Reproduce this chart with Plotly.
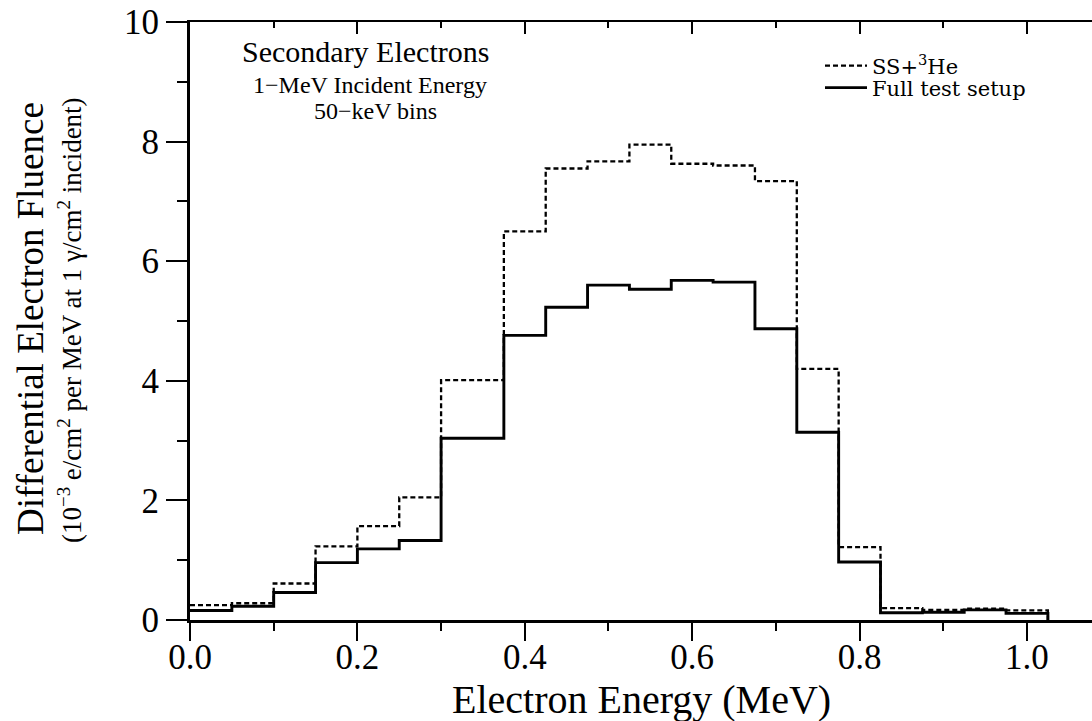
import plotly.graph_objects as go

# Bin edges (MeV) and bin values (10^-3 e/cm^2 per MeV)
bin_edges = [0.0, 0.05, 0.10, 0.15, 0.20, 0.25, 0.30, 0.375, 0.425, 0.475, 0.525,
             0.575, 0.625, 0.675, 0.725, 0.775, 0.825, 0.875, 0.925, 0.975, 1.025]
ss_he3 = [0.25, 0.28, 0.61, 1.23, 1.57, 2.05, 4.01, 6.50, 7.55, 7.67, 7.95,
          7.63, 7.60, 7.34, 4.20, 1.22, 0.20, 0.17, 0.19, 0.16]
full_setup = [0.16, 0.23, 0.46, 0.96, 1.19, 1.33, 3.04, 4.76, 5.23, 5.60, 5.53,
              5.68, 5.65, 4.87, 3.14, 0.97, 0.12, 0.13, 0.17, 0.11]

x_ticks = [0.0, 0.2, 0.4, 0.6, 0.8, 1.0]
x_tick_labels = ["0.0", "0.2", "0.4", "0.6", "0.8", "1.0"]
x_minor = [0.1, 0.3, 0.5, 0.7, 0.9]
y_ticks = [0, 2, 4, 6, 8, 10]
y_tick_labels = ["0", "2", "4", "6", "8", "10"]
y_minor = [1, 3, 5, 7, 9]

SERIF = "Liberation Serif, Times New Roman, serif"
WIDE = "DejaVu Serif, serif"

fig = go.Figure()
fig.add_trace(go.Scatter(
    x=bin_edges, y=ss_he3 + [0.0], mode="lines", line_shape="hv",
    line=dict(color="black", width=2.3, dash="5px,3px"),
    name="SS+<sup>3</sup>He", legend="legend",
))
fig.add_trace(go.Scatter(
    x=bin_edges, y=full_setup + [0.0], mode="lines", line_shape="hv",
    line=dict(color="black", width=2.9),
    name="Full test setup", legend="legend2",
))
# dummy trace for the top axis
fig.add_trace(go.Scatter(x=[None], y=[None], xaxis="x2", showlegend=False,
                         hoverinfo="skip"))

xr = [0, 1.0777]
leg_common = dict(xanchor="left", yanchor="middle", bgcolor="rgba(0,0,0,0)",
                  font=dict(size=21, family=WIDE), itemwidth=42, borderwidth=0)
fig.update_layout(
    width=1092, height=721,
    margin=dict(l=190, r=0, t=22, b=101),
    paper_bgcolor="white", plot_bgcolor="white",
    font=dict(family=SERIF, color="black"),
    showlegend=True,
    legend=dict(x=(820 - 190) / 902, y=(620 - 66) / 598, **leg_common),
    legend2=dict(x=(820 - 190) / 902, y=(620 - 88) / 598, **leg_common),
    xaxis=dict(range=xr, tickvals=x_ticks, ticktext=x_tick_labels,
               ticks="outside", ticklen=18, tickwidth=2, tickcolor="black",
               ticklabelstandoff=-14,
               showline=True, linewidth=2.5, linecolor="black",
               showgrid=False, zeroline=False,
               tickfont=dict(size=35, family=SERIF),
               minor=dict(tickvals=x_minor, ticks="outside",
                          ticklen=8, tickwidth=2, tickcolor="black")),
    xaxis2=dict(range=xr, overlaying="x", side="top", anchor="y",
                tickvals=x_ticks, ticks="inside", ticklen=12, tickwidth=2,
                tickcolor="black", showticklabels=False,
                showline=True, linewidth=2.2, linecolor="black",
                showgrid=False, zeroline=False,
                minor=dict(tickvals=x_minor, ticks="inside",
                           ticklen=6, tickwidth=2, tickcolor="black")),
    yaxis=dict(range=[0, 10], tickvals=y_ticks, ticktext=y_tick_labels,
               ticks="outside", ticklen=21, tickwidth=2, tickcolor="black",
               showline=True, linewidth=3, linecolor="black",
               showgrid=False, zeroline=False,
               tickfont=dict(size=35, family=SERIF),
               minor=dict(tickvals=y_minor, ticks="outside",
                          ticklen=10, tickwidth=2, tickcolor="black")),
)

fig.add_annotation(text="Electron Energy (MeV)", xref="paper", yref="paper",
                   x=0.5, y=(620 - 699) / 598, xanchor="center", yanchor="middle",
                   showarrow=False, font=dict(size=40, family=SERIF))
fig.add_annotation(text="Differential Electron Fluence", xref="paper", yref="paper",
                   x=0, y=(620 - 319) / 598, xanchor="center", yanchor="middle",
                   textangle=-90, showarrow=False, xshift=-160,
                   font=dict(size=37, family=SERIF))
fig.add_annotation(text="(10<sup>−3</sup> e/cm<sup>2</sup> per MeV at 1 γ/cm<sup>2</sup> incident)",
                   xref="paper", yref="paper", x=0, y=(620 - 320) / 598,
                   xanchor="center", yanchor="middle",
                   textangle=-90, showarrow=False, xshift=-120,
                   font=dict(size=27, family=SERIF))
fig.add_annotation(text="Secondary Electrons", xref="paper", yref="paper",
                   x=(365 - 190) / 902, y=(620 - 52) / 598, xanchor="center", yanchor="middle",
                   showarrow=False, font=dict(size=30, family=SERIF))
fig.add_annotation(text="1−MeV Incident Energy", xref="paper", yref="paper",
                   x=(370 - 190) / 902, y=(620 - 85) / 598, xanchor="center", yanchor="middle",
                   showarrow=False, font=dict(size=24, family=SERIF))
fig.add_annotation(text="50−keV bins", xref="paper", yref="paper",
                   x=(375 - 190) / 902, y=(620 - 111) / 598, xanchor="center", yanchor="middle",
                   showarrow=False, font=dict(size=24, family=SERIF))

fig.write_html("out.html")
